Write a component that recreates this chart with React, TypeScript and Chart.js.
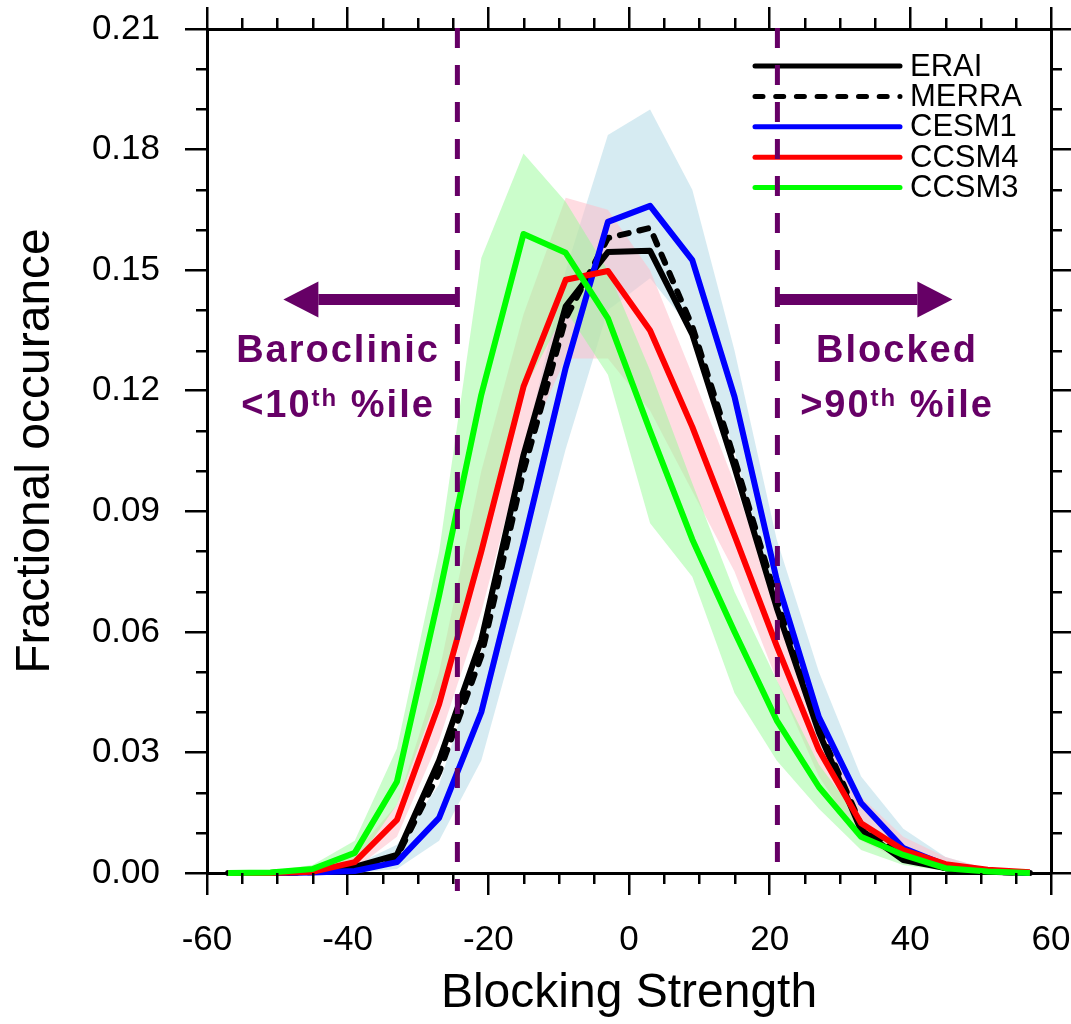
import React, { useEffect, useRef } from 'react';
import { Chart, registerables } from 'chart.js';

Chart.register(...registerables);

// ---------------- data ----------------
const binCenters = [-57, -51, -45, -39, -33, -27, -21, -15, -9, -3, 3, 9, 15, 21, 27, 33, 39, 45, 51, 57];

const eraiValues = [0, 0, 0.0003, 0.0015, 0.0045, 0.028, 0.058, 0.104, 0.141, 0.1545, 0.1548, 0.134, 0.101, 0.066, 0.035, 0.0107, 0.0032, 0.0012, 0.0003, 0];
const merraValues = [0, 0, 0.0002, 0.0012, 0.004, 0.025, 0.054, 0.1, 0.138, 0.158, 0.1605, 0.136, 0.103, 0.068, 0.036, 0.012, 0.0038, 0.0012, 0.0003, 0];
const cesm1Values = [0, 0, 0.0001, 0.0005, 0.0027, 0.0137, 0.04, 0.082, 0.1257, 0.162, 0.166, 0.1525, 0.1185, 0.073, 0.0388, 0.0174, 0.0062, 0.002, 0.0006, 0];
const ccsm4Values = [0, 0, 0.0003, 0.0027, 0.0132, 0.042, 0.08, 0.121, 0.1476, 0.1498, 0.135, 0.111, 0.084, 0.0565, 0.0306, 0.0124, 0.0057, 0.0022, 0.0008, 0.0002];
const ccsm3Values = [0, 0.0001, 0.001, 0.005, 0.0227, 0.069, 0.119, 0.159, 0.1543, 0.138, 0.11, 0.083, 0.06, 0.038, 0.0214, 0.009, 0.0045, 0.0012, 0.0004, 0];

const cesm1Upper = [0, 0, 0.0005, 0.002, 0.007, 0.022, 0.055, 0.105, 0.15, 0.1836, 0.19, 0.17, 0.13, 0.083, 0.05, 0.024, 0.011, 0.004, 0.001, 0];
const cesm1Lower = [0, 0, 0, 0, 0.001, 0.008, 0.028, 0.066, 0.1055, 0.14, 0.148, 0.135, 0.105, 0.066, 0.032, 0.013, 0.004, 0.001, 0, 0];
const ccsm4Upper = [0, 0, 0.001, 0.005, 0.017, 0.05, 0.1, 0.139, 0.168, 0.165, 0.15, 0.124, 0.097, 0.067, 0.04, 0.019, 0.009, 0.004, 0.001, 0];
const ccsm4Lower = [0, 0, 0, 0.001, 0.009, 0.033, 0.065, 0.105, 0.128, 0.128, 0.115, 0.095, 0.075, 0.048, 0.024, 0.008, 0.003, 0.001, 0, 0];
const ccsm3Upper = [0, 0.0005, 0.002, 0.008, 0.031, 0.08, 0.153, 0.179, 0.167, 0.15, 0.125, 0.097, 0.07, 0.048, 0.027, 0.013, 0.006, 0.002, 0.0006, 0];
const ccsm3Lower = [0, 0, 0.0003, 0.002, 0.017, 0.045, 0.077, 0.12, 0.14, 0.124, 0.087, 0.0737, 0.0448, 0.028, 0.016, 0.0057, 0.002, 0.0005, 0.0001, 0];

const xMajorTicks = [-60, -40, -20, 0, 20, 40, 60];
const xMinorTicks = [-55, -50, -45, -35, -30, -25, -15, -10, -5, 5, 10, 15, 25, 30, 35, 45, 50, 55];
const yMajorTicks = [0, 0.03, 0.06, 0.09, 0.12, 0.15, 0.18, 0.21];
const yMinorTicks = [0.01, 0.02, 0.04, 0.05, 0.07, 0.08, 0.1, 0.11, 0.13, 0.14, 0.16, 0.17, 0.19, 0.2];

const percentileThresholds = [-24.4, 21.1];

const legendLabels = ['ERAI', 'MERRA', 'CESM1', 'CCSM4', 'CCSM3'];
const legendColors = ['#000000', '#000000', '#0000ff', '#ff0000', '#00ff00'];
const legendDashed = [false, true, false, false, false];

const PURPLE = '#660066';
const FONT = '"Liberation Sans", Arial, Helvetica, sans-serif';

const pts = (vals: number[]) => vals.map((v, i) => ({ x: binCenters[i], y: v }));

const overlayPlugin = {
  id: 'overlay',
  afterDraw(chart: any) {
    const ctx: CanvasRenderingContext2D = chart.ctx;
    const xs = chart.scales.x;
    const ys = chart.scales.y;
    const area = chart.chartArea;
    ctx.save();

    // minor ticks (outward, four sides)
    ctx.strokeStyle = '#000';
    ctx.lineWidth = 2.5;
    ctx.setLineDash([]);
    ctx.beginPath();
    for (const v of xMinorTicks) {
      const px = Math.round(xs.getPixelForValue(v)) + 0.25;
      ctx.moveTo(px, area.bottom);
      ctx.lineTo(px, area.bottom + 11);
      ctx.moveTo(px, area.top);
      ctx.lineTo(px, area.top - 11);
    }
    for (const v of yMinorTicks) {
      const py = Math.round(ys.getPixelForValue(v)) + 0.25;
      ctx.moveTo(area.left, py);
      ctx.lineTo(area.left - 11, py);
      ctx.moveTo(area.right, py);
      ctx.lineTo(area.right + 11, py);
    }
    ctx.stroke();

    // legend
    const lx0 = area.left + 548;
    const lx1 = area.left + 693;
    const ly0 = area.top + 37;
    const lstep = 30.4;
    ctx.font = `31px ${FONT}`;
    ctx.textBaseline = 'middle';
    ctx.textAlign = 'left';
    legendLabels.forEach((lab, i) => {
      const ly = ly0 + i * lstep;
      ctx.strokeStyle = legendColors[i];
      ctx.lineWidth = 5;
      ctx.lineCap = 'round';
      ctx.setLineDash(legendDashed[i] ? [8, 12.7] : []);
      ctx.beginPath();
      ctx.moveTo(lx0, ly);
      ctx.lineTo(lx1, ly);
      ctx.stroke();
      ctx.fillStyle = '#000';
      ctx.fillText(lab, lx1 + 10, ly + 1);
    });
    ctx.setLineDash([]);
    ctx.lineCap = 'butt';

    // percentile dashed lines
    const pxL = xs.getPixelForValue(percentileThresholds[0]);
    const pxR = xs.getPixelForValue(percentileThresholds[1]);
    ctx.strokeStyle = PURPLE;
    ctx.lineWidth = 5;
    ctx.setLineDash([20, 17]);
    ctx.beginPath();
    ctx.moveTo(pxL, area.top - 1);
    ctx.lineTo(pxL, area.bottom + 18);
    ctx.moveTo(pxR, area.top - 1);
    ctx.lineTo(pxR, area.bottom - 3);
    ctx.stroke();
    ctx.setLineDash([]);

    // arrows
    const ay = area.top + 270.5;
    const drawArrow = (from: number, tip: number) => {
      const dir = Math.sign(tip - from);
      const headLen = 35;
      const base = tip - dir * headLen;
      ctx.fillStyle = PURPLE;
      ctx.fillRect(Math.min(from, base), ay - 5.5, Math.abs(from - base), 11);
      ctx.beginPath();
      ctx.moveTo(tip, ay);
      ctx.lineTo(base, ay - 18);
      ctx.lineTo(base, ay + 18);
      ctx.closePath();
      ctx.fill();
    };
    drawArrow(pxL, pxL - 174);
    drawArrow(pxR, pxR + 175);

    // annotation texts
    const bigFont = `bold 38px ${FONT}`;
    const supFont = `bold 24px ${FONT}`;
    const anyCtx = ctx as any;
    anyCtx.letterSpacing = '2px';
    ctx.fillStyle = PURPLE;
    ctx.textBaseline = 'alphabetic';
    ctx.textAlign = 'left';
    const centerText = (text: string, cx: number, base: number) => {
      ctx.font = bigFont;
      const w = ctx.measureText(text).width;
      ctx.fillText(text, cx - w / 2, base);
    };
    const supText = (pre: string, sup: string, post: string, cx: number, base: number) => {
      ctx.font = bigFont;
      const w1 = ctx.measureText(pre).width;
      const w3 = ctx.measureText(post).width;
      ctx.font = supFont;
      const w2 = ctx.measureText(sup).width;
      let x0 = cx - (w1 + w2 + w3) / 2;
      ctx.font = bigFont;
      ctx.fillText(pre, x0, base);
      x0 += w1;
      ctx.font = supFont;
      ctx.fillText(sup, x0, base - 11);
      x0 += w2;
      ctx.font = bigFont;
      ctx.fillText(post, x0, base);
    };
    const baseline1 = area.top + 333;
    const baseline2 = area.top + 388;
    centerText('Baroclinic', 338, baseline1);
    supText('<10', 'th', ' %ile', 338, baseline2);
    centerText('Blocked', 897, baseline1);
    supText('>90', 'th', ' %ile', 897, baseline2);
    anyCtx.letterSpacing = '0px';

    ctx.restore();
  },
};

const zeroPad = (s: any) => {
  s.paddingLeft = 0;
  s.paddingRight = 0;
  s.paddingTop = 0;
  s.paddingBottom = 0;
};

export default function App() {
  const canvasRef = useRef<HTMLCanvasElement | null>(null);

  useEffect(() => {
    const canvas = canvasRef.current;
    if (!canvas) return;

    const lineDs = (label: string, vals: number[], color: string, order: number, dash?: number[]) => ({
      label,
      data: pts(vals),
      borderColor: color,
      backgroundColor: color,
      borderWidth: 6,
      borderDash: dash || [],
      borderCapStyle: dash ? 'round' : 'butt',
      borderJoinStyle: 'round',
      pointRadius: 0,
      fill: false,
      tension: 0,
      order,
      clip: 6,
    });
    const bandDs = (label: string, vals: number[], color: string, order: number, fillNext: boolean) => ({
      label,
      data: pts(vals),
      borderWidth: 0,
      borderColor: 'rgba(0,0,0,0)',
      backgroundColor: color,
      pointRadius: 0,
      fill: fillNext ? '+1' : false,
      tension: 0,
      order,
    });

    const majorGrid = {
      display: true,
      drawOnChartArea: false,
      drawTicks: true,
      tickLength: 22,
      color: '#000',
      lineWidth: 2.5,
    };
    const border = { display: true, color: '#000', width: 3 };

    const chart = new Chart(canvas, {
      type: 'line',
      data: {
        datasets: [
          bandDs('CESM1 upper', cesm1Upper, 'rgba(173,216,230,0.5)', 30, true),
          bandDs('CESM1 lower', cesm1Lower, 'rgba(173,216,230,0.5)', 30, false),
          bandDs('CCSM4 upper', ccsm4Upper, 'rgba(255,192,203,0.55)', 20, true),
          bandDs('CCSM4 lower', ccsm4Lower, 'rgba(255,192,203,0.55)', 20, false),
          bandDs('CCSM3 upper', ccsm3Upper, 'rgba(152,251,152,0.5)', 10, true),
          bandDs('CCSM3 lower', ccsm3Lower, 'rgba(152,251,152,0.5)', 10, false),
          lineDs('ERAI', eraiValues, '#000000', 5),
          lineDs('MERRA', merraValues, '#000000', 4, [9, 11]),
          lineDs('CESM1', cesm1Values, '#0000ff', 3),
          lineDs('CCSM4', ccsm4Values, '#ff0000', 2),
          lineDs('CCSM3', ccsm3Values, '#00ff00', 1),
        ] as any,
      },
      options: {
        responsive: false,
        maintainAspectRatio: false,
        animation: false,
        devicePixelRatio: 1,
        layout: { padding: 0 },
        plugins: {
          legend: { display: false },
          tooltip: { enabled: false },
          title: { display: false },
        },
        scales: {
          x: {
            type: 'linear',
            position: 'bottom',
            min: -60,
            max: 60,
            afterBuildTicks: (s: any) => { s.ticks = xMajorTicks.map((v) => ({ value: v })); },
            afterFit: (s: any) => { s.height = 151; zeroPad(s); },
            ticks: {
              font: { family: FONT, size: 35 },
              color: '#000',
              padding: 24,
              maxRotation: 0,
              autoSkip: false,
              callback: (v: any) => String(v),
            },
            grid: majorGrid,
            border,
            title: {
              display: true,
              text: 'Blocking Strength',
              font: { family: FONT, size: 48 },
              color: '#000',
              padding: { top: 0, bottom: 1 },
            },
          },
          x2: {
            type: 'linear',
            position: 'top',
            min: -60,
            max: 60,
            afterBuildTicks: (s: any) => { s.ticks = xMajorTicks.map((v) => ({ value: v })); },
            afterFit: (s: any) => { s.height = 29; zeroPad(s); },
            ticks: { display: false },
            grid: majorGrid,
            border,
          },
          y: {
            type: 'linear',
            position: 'left',
            min: 0,
            max: 0.21,
            afterBuildTicks: (s: any) => { s.ticks = yMajorTicks.map((v) => ({ value: v })); },
            afterFit: (s: any) => { s.width = 207; zeroPad(s); },
            ticks: {
              font: { family: FONT, size: 35 },
              color: '#000',
              padding: 25,
              autoSkip: false,
              callback: (v: any) => Number(v).toFixed(2),
            },
            grid: majorGrid,
            border,
            title: {
              display: true,
              text: 'Fractional occurance',
              font: { family: FONT, size: 48 },
              color: '#000',
              padding: { top: 7, bottom: 0 },
            },
          },
          y2: {
            type: 'linear',
            position: 'right',
            min: 0,
            max: 0.21,
            afterBuildTicks: (s: any) => { s.ticks = yMajorTicks.map((v) => ({ value: v })); },
            afterFit: (s: any) => { s.width = 20; zeroPad(s); },
            ticks: { display: false },
            grid: majorGrid,
            border,
          },
        },
      } as any,
      plugins: [overlayPlugin],
    });

    return () => chart.destroy();
  }, []);

  return (
    <div style={{ position: 'absolute', left: 0, top: 0, width: 1071, height: 1024, background: '#fff' }}>
      <canvas ref={canvasRef} width={1071} height={1024} style={{ display: 'block', width: 1071, height: 1024 }} />
    </div>
  );
}
